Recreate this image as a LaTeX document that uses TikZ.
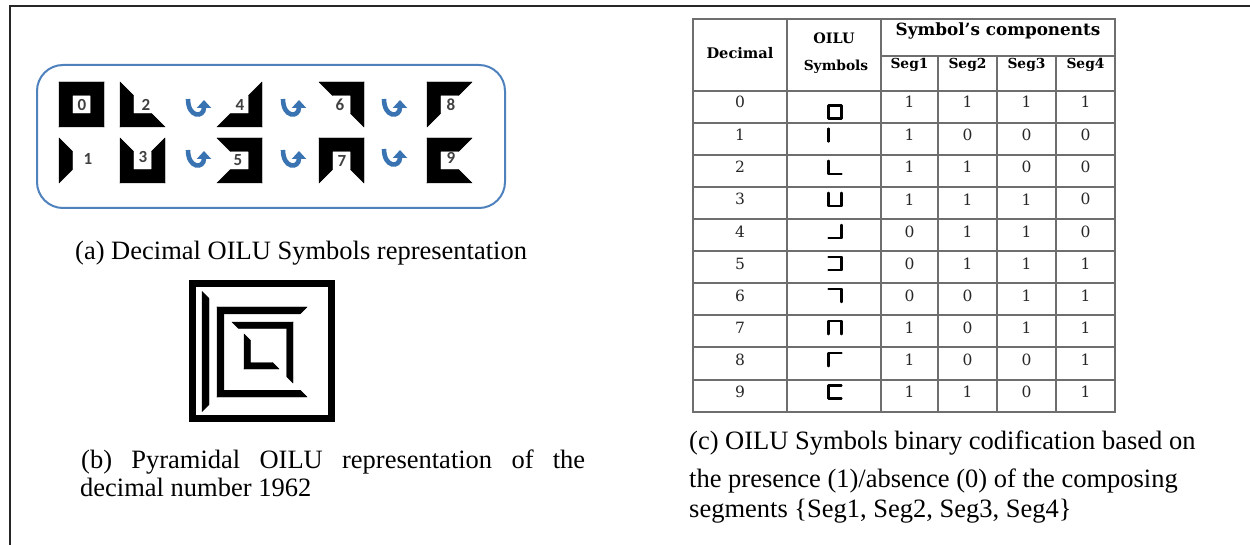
\documentclass[tikz,border=0pt]{standalone}
\usepackage{fontspec}
\setmainfont{Liberation Serif}
\newfontfamily\digitfont{Carlito}
\newfontfamily\tablefont{DejaVu Serif}
\usetikzlibrary{arrows.meta}

\definecolor{panelblue}{RGB}{79,129,189}
\definecolor{arrowblue}{RGB}{58,115,178}
\definecolor{digitgray}{RGB}{64,64,64}
\definecolor{gridgray}{RGB}{110,110,110}

% Filled OILU glyph: centre x, centre y, half side, bar thickness, Seg1..Seg4 (left, bottom, right, top)
\newcommand\oiluglyph[8]{%
  \ifnum#5=1 \fill[glyphfill] ({#1-#3},{#2-#3}) -- ({#1-#3},{#2+#3}) -- ({#1-#3+#4},{#2+#3-#4}) -- ({#1-#3+#4},{#2-#3+#4}) -- cycle;\fi
  \ifnum#6=1 \fill[glyphfill] ({#1-#3},{#2+#3}) -- ({#1+#3},{#2+#3}) -- ({#1+#3-#4},{#2+#3-#4}) -- ({#1-#3+#4},{#2+#3-#4}) -- cycle;\fi
  \ifnum#7=1 \fill[glyphfill] ({#1+#3},{#2+#3}) -- ({#1+#3},{#2-#3}) -- ({#1+#3-#4},{#2-#3+#4}) -- ({#1+#3-#4},{#2+#3-#4}) -- cycle;\fi
  \ifnum#8=1 \fill[glyphfill] ({#1-#3},{#2-#3}) -- ({#1+#3},{#2-#3}) -- ({#1+#3-#4},{#2-#3+#4}) -- ({#1-#3+#4},{#2-#3+#4}) -- cycle;\fi
}
% Stroked OILU glyph for the table: centre x, centre y, Seg1..Seg4
\newcommand\oilustroke[6]{%
  \ifnum#3=1 \draw[tableglyph] ({#1-6.5},{#2-6.5}) -- ({#1-6.5},{#2+6.5});\fi
  \ifnum#4=1 \draw[tableglyph] ({#1-6.5},{#2+6.5}) -- ({#1+6.5},{#2+6.5});\fi
  \ifnum#5=1 \draw[tableglyph] ({#1+6.5},{#2+6.5}) -- ({#1+6.5},{#2-6.5});\fi
  \ifnum#6=1 \draw[tableglyph] ({#1+6.5},{#2-6.5}) -- ({#1-6.5},{#2-6.5});\fi
}

\tikzset{
  glyphfill/.style={fill=black, draw=black, line width=0.4pt, line join=miter},
  tableglyph/.style={draw=black, line width=2.2pt, line cap=round},
  turnarrow/.style={draw=arrowblue, line width=4.6pt, -{Triangle[length=8pt,width=14pt]}},
  digitlabel/.style={font=\digitfont\bfseries\fontsize{17}{17}\selectfont, text=digitgray, inner sep=0pt},
  captext/.style={font=\fontsize{26.5}{30}\selectfont, inner sep=0pt, anchor=base west},
  cell/.style={font=\tablefont\fontsize{15.5}{15.5}\selectfont, text=black!85, inner sep=0pt},
  headcell/.style={font=\tablefont\bfseries\fontsize{13.8}{13.8}\selectfont, inner sep=0pt},
  gridline/.style={draw=gridgray, line width=1.4pt},
}

\begin{document}
\begin{tikzpicture}[x=1pt, y=-1pt]
\useasboundingbox (0,0) rectangle (1250,545);

% outer frame (top and left edges)
\draw[line width=2.6pt, draw=black!85] (1250,6) -- (10,6) -- (10,545);

% ---------- (a) decimal symbols ----------
\draw[draw=panelblue, line width=2pt, rounded corners=26pt] (37,65) rectangle (505,208);

\oiluglyph{81.5}{104.5}{22.5}{13.5}{1}{1}{1}{1}
\oiluglyph{142.5}{104.5}{22.5}{13.5}{1}{1}{0}{0}
\oiluglyph{239.5}{104.5}{22.5}{13.5}{0}{1}{1}{0}
\oiluglyph{341.5}{104.5}{22.5}{13.5}{0}{0}{1}{1}
\oiluglyph{449.5}{104.5}{22.5}{13.5}{1}{0}{0}{1}
\oiluglyph{81.5}{160.5}{22.5}{13.5}{1}{0}{0}{0}
\oiluglyph{142.5}{160.5}{22.5}{13.5}{1}{1}{1}{0}
\oiluglyph{239.5}{160.5}{22.5}{13.5}{0}{1}{1}{1}
\oiluglyph{341.5}{160.5}{22.5}{13.5}{1}{0}{1}{1}
\oiluglyph{449.5}{160.5}{22.5}{13.5}{1}{1}{0}{1}

\node[digitlabel] (n0) at (82,105) {0};
\node[digitlabel] (n2) at (146,105) {2};
\node[digitlabel] (n4) at (240,105) {4};
\node[digitlabel] (n6) at (340,105) {6};
\node[digitlabel] (n8) at (451,105) {8};
\node[digitlabel] (n1) at (88,159) {1};
\node[digitlabel] (n3) at (143,157) {3};
\node[digitlabel] (n5) at (238,160) {5};
\node[digitlabel] (n7) at (342,161) {7};
\node[digitlabel] (n9) at (451,158) {9};

% rotation arrows between symbol columns
\foreach \ax/\ay in {197/107, 197/158, 292/107, 292/158, 393/107, 393/157}{
  \draw[turnarrow] ({\ax-9},{\ay-8}) .. controls ({\ax-9},{\ay+11}) and ({\ax+7},{\ay+11}) .. ({\ax+7},{\ay-7});
}

\node[captext] (capA) at (75,260) {(a) Decimal OILU Symbols representation};

% ---------- (b) pyramidal representation of 1962 ----------
\draw[line width=7pt] (192.5,283.5) rectangle (331.5,418.5);
\oiluglyph{262}{351.5}{60}{7}{1}{0}{0}{0}
\oiluglyph{262}{352}{45}{6.8}{1}{1}{0}{1}
\oiluglyph{262.5}{352.5}{30.5}{6.3}{0}{0}{1}{1}
\oiluglyph{261.5}{351.5}{17.5}{6.5}{1}{1}{0}{0}

\node[captext] (capB1) at (81,468) {\makebox[504pt][s]{(b) Pyramidal OILU representation of the}};
\node[captext] (capB2) at (80,496) {decimal number 1962};

% ---------- (c) binary codification table ----------
\draw[gridline] (693,19) rectangle (1115,412);
\draw[gridline] (881,56) -- (1115,56);
\draw[gridline] (693,91) -- (1115,91);
\foreach \ly in {123,155,187,219,251,283,315,347,380}{
  \draw[gridline] (693,\ly) -- (1115,\ly);
}
\draw[gridline] (787,19) -- (787,412);
\draw[gridline] (881,19) -- (881,412);
\foreach \lx in {938,997,1056}{
  \draw[gridline] (\lx,56) -- (\lx,412);
}

\node[headcell, font=\tablefont\bfseries\fontsize{14.6}{14.6}\selectfont] (hDec) at (740,53) {Decimal};
\node[headcell, font=\tablefont\bfseries\fontsize{14.4}{14.4}\selectfont] (hOilu) at (834,38) {OILU};
\node[headcell] (hSym) at (836,67) {Symbols};
\node[headcell, font=\tablefont\bfseries\fontsize{16.8}{16.8}\selectfont] (hComp) at (998,31) {Symbol’s components};
\node[headcell] (hS1) at (909.5,65) {Seg1};
\node[headcell] (hS2) at (967.5,65) {Seg2};
\node[headcell] (hS3) at (1026.5,65) {Seg3};
\node[headcell] (hS4) at (1085.5,65) {Seg4};

\foreach \i/\a/\b/\c/\d in {0/1/1/1/1, 1/1/0/0/0, 2/1/1/0/0, 3/1/1/1/0, 4/0/1/1/0,
                            5/0/1/1/1, 6/0/0/1/1, 7/1/0/1/1, 8/1/0/0/1, 9/1/1/0/1}{
  \pgfmathsetmacro\ry{ifthenelse(\i==0,102,103+32.1*\i)}
  \pgfmathsetmacro\gy{ifthenelse(\i==0,112,103+32.1*\i)}
  \node[cell] (dec\i) at (740,\ry) {\i};
  \oilustroke{835}{\gy}{\a}{\b}{\c}{\d}
  \node[cell] (sa\i) at (909.5,\ry) {\a};
  \node[cell] (sb\i) at (967.5,\ry) {\b};
  \node[cell] (sc\i) at (1026.5,\ry) {\c};
  \node[cell] (sd\i) at (1085.5,\ry) {\d};
}

\node[captext] (capC1) at (689,449) {(c) OILU Symbols binary codification based on};
\node[captext] (capC2) at (689,487) {the presence (1)/absence (0) of the composing};
\node[captext] (capC3) at (689,517) {segments \{Seg1, Seg2, Seg3, Seg4\}};
\end{tikzpicture}
\end{document}
